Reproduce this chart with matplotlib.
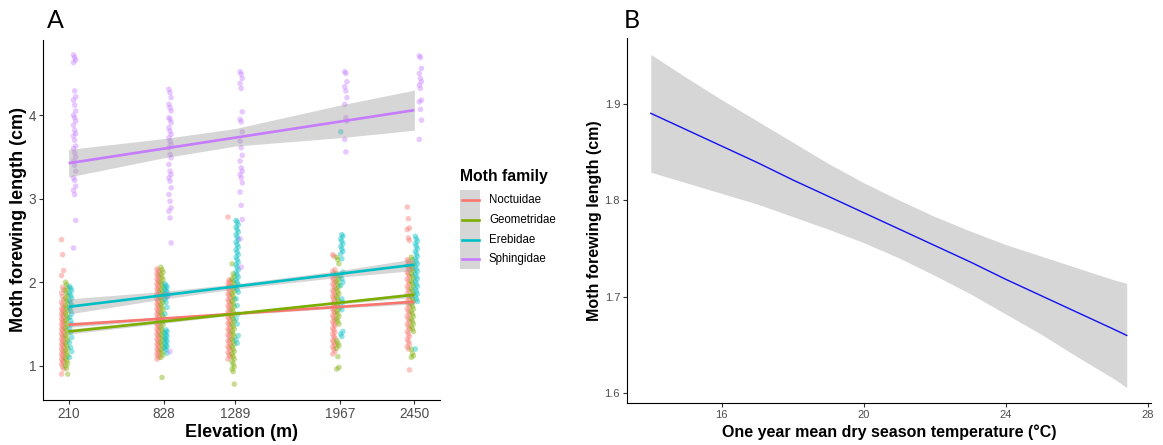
import numpy as np
import matplotlib.pyplot as plt
from matplotlib.patches import Rectangle
from matplotlib.lines import Line2D

plt.rcParams['font.family'] = ['Liberation Sans', 'DejaVu Sans']

# ---------------- panel A data ----------------
elevations = [210, 828, 1289, 1967, 2450]
families = ["Noctuidae", "Geometridae", "Erebidae", "Sphingidae"]
family_colors = ["#F8766D", "#7CAE00", "#00BFC4", "#C77CFF"]

# forewing length (cm) per elevation
noctuidae_pts = [
    [2.51, 2.33, 2.14, 2.08, 1.94, 1.91, 1.87, 1.83, 1.79, 1.76, 1.73, 1.70, 1.68, 1.66, 1.64, 1.62, 1.60,
     1.58, 1.56, 1.54, 1.52, 1.50, 1.48, 1.46, 1.44, 1.42, 1.40, 1.38, 1.36, 1.34, 1.32, 1.30, 1.28, 1.26,
     1.24, 1.22, 1.20, 1.18, 1.16, 1.14, 1.12, 1.10, 1.08, 1.06, 1.04, 1.02, 0.99, 0.96, 0.90],
    [2.16, 2.14, 2.12, 2.10, 2.08, 2.06, 2.04, 2.02, 2.00, 1.98, 1.96, 1.94, 1.92, 1.90, 1.88, 1.86, 1.84,
     1.82, 1.80, 1.78, 1.76, 1.74, 1.72, 1.70, 1.68, 1.66, 1.64, 1.62, 1.60, 1.58, 1.56, 1.54, 1.52, 1.50,
     1.48, 1.46, 1.44, 1.42, 1.40, 1.38, 1.36, 1.34, 1.32, 1.30, 1.28, 1.26, 1.24, 1.22, 1.20, 1.18, 1.16,
     1.14, 1.12, 1.10, 1.08],
    [2.78, 2.03, 2.01, 1.99, 1.97, 1.95, 1.93, 1.91, 1.88, 1.86, 1.84, 1.81, 1.79, 1.77, 1.74, 1.72, 1.70,
     1.67, 1.65, 1.63, 1.60, 1.58, 1.56, 1.53, 1.51, 1.49, 1.46, 1.44, 1.42, 1.39, 1.37, 1.35, 1.32, 1.30,
     1.28, 1.25, 1.23, 1.21, 1.18, 1.16, 1.13, 1.11, 1.08],
    [2.33, 2.31, 2.15, 2.13, 2.10, 2.08, 2.05, 2.03, 2.00, 1.98, 1.95, 1.93, 1.90, 1.88, 1.85, 1.83, 1.80,
     1.78, 1.75, 1.73, 1.70, 1.68, 1.65, 1.63, 1.60, 1.58, 1.55, 1.53, 1.50, 1.48, 1.45, 1.43, 1.40, 1.38,
     1.35, 1.33, 1.30, 1.28, 1.25, 1.23, 1.20, 1.17, 1.14],
    [2.90, 2.76, 2.65, 2.63, 2.53, 2.50, 2.27, 2.25, 2.22, 2.20, 2.17, 2.15, 2.12, 2.10, 2.07, 2.04, 2.01,
     1.98, 1.95, 1.92, 1.89, 1.86, 1.83, 1.80, 1.77, 1.74, 1.71, 1.68, 1.65, 1.62, 1.59, 1.56, 1.53, 1.50,
     1.47, 1.44, 1.41, 1.38, 1.35, 1.32, 1.29, 1.26, 1.23, 1.20, 0.95],
]
geometridae_pts = [
    [2.00, 1.97, 1.93, 1.90, 1.87, 1.84, 1.81, 1.78, 1.75, 1.72, 1.69, 1.66, 1.63, 1.60, 1.57, 1.54, 1.51,
     1.48, 1.45, 1.42, 1.39, 1.36, 1.33, 1.30, 1.27, 1.24, 1.21, 1.18, 1.15, 1.12, 1.09, 1.06, 1.03, 1.00,
     0.97, 0.90],
    [2.18, 2.15, 2.12, 2.09, 2.06, 2.03, 2.00, 1.97, 1.94, 1.91, 1.88, 1.85, 1.82, 1.79, 1.76, 1.73, 1.70,
     1.67, 1.64, 1.61, 1.58, 1.55, 1.52, 1.49, 1.46, 1.43, 1.40, 1.37, 1.34, 1.31, 1.28, 1.25, 1.22, 1.19,
     1.16, 1.13, 1.10, 0.86],
    [2.22, 2.10, 2.07, 2.04, 2.01, 1.98, 1.95, 1.92, 1.89, 1.86, 1.83, 1.80, 1.77, 1.74, 1.71, 1.68, 1.65,
     1.62, 1.59, 1.56, 1.53, 1.50, 1.47, 1.44, 1.41, 1.38, 1.35, 1.32, 1.29, 1.26, 1.23, 1.20, 1.17, 1.14,
     1.11, 1.08, 1.05, 1.02, 0.99, 0.96, 0.93, 0.78],
    [2.30, 2.27, 2.22, 2.10, 2.07, 2.04, 2.01, 1.98, 1.95, 1.92, 1.89, 1.86, 1.83, 1.80, 1.77, 1.74, 1.71,
     1.68, 1.65, 1.62, 1.59, 1.56, 1.53, 1.50, 1.30, 1.27, 1.24, 1.21, 1.11, 0.98, 0.96],
    [2.30, 2.27, 2.22, 2.19, 2.16, 2.13, 2.10, 2.07, 2.04, 2.01, 1.98, 1.95, 1.92, 1.89, 1.86, 1.83, 1.80,
     1.77, 1.74, 1.71, 1.68, 1.65, 1.62, 1.59, 1.56, 1.53, 1.50, 1.47, 1.44, 1.41, 1.20, 1.15, 1.12, 1.10],
]
erebidae_pts = [
    [1.95, 1.93, 1.90, 1.87, 1.84, 1.81, 1.78, 1.75, 1.72, 1.69, 1.66, 1.62, 1.58, 1.54, 1.50, 1.45, 1.40,
     1.34, 1.28, 1.22, 1.17, 1.10],
    [1.98, 1.96, 1.94, 1.92, 1.90, 1.88, 1.86, 1.84, 1.82, 1.80, 1.76, 1.70, 1.62, 1.43, 1.41, 1.39, 1.37,
     1.35, 1.33, 1.31, 1.29, 1.27, 1.25, 1.23, 1.21, 1.19, 1.15],
    [2.74, 2.72, 2.69, 2.66, 2.63, 2.60, 2.57, 2.54, 2.51, 2.48, 2.45, 2.42, 2.39, 2.36, 2.33, 2.30, 2.27,
     2.24, 2.21, 2.18, 2.15, 2.12, 2.09, 2.06, 2.03, 2.00, 1.97, 1.94, 1.91, 1.88, 1.80, 1.72, 1.62, 1.56,
     1.50, 1.36, 1.31, 1.27],
    [3.80, 2.57, 2.55, 2.52, 2.49, 2.46, 2.43, 2.40, 2.37, 2.34, 2.28, 2.12, 2.08, 2.04, 2.00, 1.96, 1.80,
     1.76, 1.71, 1.67, 1.41, 1.38, 1.35],
    [2.55, 2.52, 2.49, 2.46, 2.43, 2.40, 2.37, 2.34, 2.31, 2.28, 2.25, 2.22, 2.19, 2.16, 2.13, 2.10, 2.07,
     2.04, 2.01, 1.98, 1.95, 1.92, 1.89, 1.86, 1.83, 1.80, 1.77, 1.20],
]
sphingidae_pts = [
    [4.72, 4.69, 4.66, 4.63, 4.29, 4.22, 4.18, 4.12, 4.05, 4.00, 3.97, 3.93, 3.88, 3.82, 3.78, 3.75, 3.70,
     3.63, 3.60, 3.55, 3.50, 3.45, 3.40, 3.33, 3.25, 3.22, 3.15, 3.10, 3.05, 2.74, 2.41],
    [4.31, 4.27, 4.21, 4.13, 4.09, 4.05, 3.97, 3.95, 3.91, 3.85, 3.81, 3.77, 3.73, 3.69, 3.65, 3.61, 3.53,
     3.49, 3.41, 3.33, 3.29, 3.25, 3.21, 3.13, 3.05, 2.97, 2.89, 2.85, 2.77, 2.47, 1.85, 1.17],
    [4.52, 4.49, 4.44, 4.38, 4.32, 4.04, 3.95, 3.92, 3.80, 3.69, 3.61, 3.52, 3.45, 3.37, 3.33, 3.29, 3.25,
     3.19, 3.08, 2.92, 2.75, 2.52, 2.18],
    [4.52, 4.50, 4.40, 4.34, 4.29, 4.21, 4.13, 3.97, 3.93, 3.71, 3.56],
    [4.71, 4.69, 4.56, 4.50, 4.44, 4.40, 4.36, 4.32, 4.18, 4.16, 4.07, 3.94, 3.71],
]

# linear fits and 95% bands at each elevation
fit_noctuidae = [1.49, 1.566, 1.623, 1.706, 1.766]
lo_noctuidae = [1.46, 1.55, 1.61, 1.69, 1.74]
hi_noctuidae = [1.52, 1.58, 1.64, 1.72, 1.79]
fit_geometridae = [1.41, 1.531, 1.622, 1.755, 1.85]
lo_geometridae = [1.38, 1.51, 1.61, 1.74, 1.82]
hi_geometridae = [1.44, 1.55, 1.64, 1.77, 1.88]
fit_erebidae = [1.706, 1.845, 1.949, 2.101, 2.21]
lo_erebidae = [1.62, 1.80, 1.92, 2.06, 2.14]
hi_erebidae = [1.80, 1.89, 1.98, 2.14, 2.28]
fit_sphingidae = [3.425, 3.60, 3.731, 3.923, 4.06]
lo_sphingidae = [3.26, 3.49, 3.63, 3.73, 3.82]
hi_sphingidae = [3.59, 3.72, 3.84, 4.12, 4.30]

# ---------------- panel B data ----------------
temp_x = [14, 15, 16, 17, 18, 19, 20, 21, 22, 23, 24, 25, 26, 27, 27.4]
temp_fit = [1.890, 1.873, 1.856, 1.839, 1.821, 1.804, 1.787, 1.770, 1.753, 1.736, 1.718, 1.701,
            1.684, 1.667, 1.660]
temp_lo = [1.829, 1.818, 1.807, 1.796, 1.783, 1.770, 1.756, 1.740, 1.722, 1.703, 1.682, 1.661,
           1.638, 1.616, 1.606]
temp_hi = [1.951, 1.927, 1.904, 1.882, 1.860, 1.838, 1.818, 1.800, 1.783, 1.768, 1.754, 1.742,
           1.730, 1.718, 1.714]

points = [noctuidae_pts, geometridae_pts, erebidae_pts, sphingidae_pts]
fits = [fit_noctuidae, fit_geometridae, fit_erebidae, fit_sphingidae]
los = [lo_noctuidae, lo_geometridae, lo_erebidae, lo_sphingidae]
his = [hi_noctuidae, hi_geometridae, hi_erebidae, hi_sphingidae]

W, H = 1163, 445
fig = plt.figure(figsize=(W / 100, H / 100), dpi=100)


def fx(x):
    return x / W


def fy(y):
    return 1 - y / H


def style_axes(ax, tick_size):
    for s in ['top', 'right']:
        ax.spines[s].set_visible(False)
    for s in ['left', 'bottom']:
        ax.spines[s].set_linewidth(0.8)
        ax.spines[s].set_color('black')
    ax.tick_params(length=3, width=0.8, color='#333333', labelcolor='#4D4D4D',
                   labelsize=tick_size, pad=2)


# ---------------- panel A ----------------
axA = fig.add_axes([fx(43), fy(400), fx(440 - 43), (400 - 40) / H])
dodge = [-39, -13, 13, 39]
spread = np.array([-7, 0, 7])   # slight side-by-side spread inside a column
for k in range(4):
    for i, elev in enumerate(elevations):
        ys = points[k][i]
        xs = elev + dodge[k] + spread[np.arange(len(ys)) % 3]
        axA.scatter(xs, ys, s=16, color=family_colors[k],
                    alpha=0.42, edgecolors='none', zorder=1)
for k in range(4):
    axA.fill_between(elevations, los[k], his[k], color='#999999', alpha=0.4,
                     linewidth=0, zorder=2)
    axA.plot(elevations, fits[k], color=family_colors[k], lw=1.9, zorder=3,
             solid_capstyle='butt')

axA.set_xlim(44, 2616)
axA.set_ylim(0.59, 4.9)
axA.set_xticks(elevations)
axA.set_xticklabels([str(e) for e in elevations])
axA.set_yticks([1, 2, 3, 4])
axA.set_yticklabels(['1', '2', '3', '4'])
style_axes(axA, 9.8)
axA.set_xlabel('Elevation (m)', fontsize=13, fontweight='bold', labelpad=2)
axA.set_ylabel('Moth forewing length (cm)', fontsize=13, fontweight='bold', labelpad=1)

# legend
fig.text(fx(460), fy(177), 'Moth family', fontsize=11.3, fontweight='bold',
         ha='left', va='center')
key_top = 190
key_h = 19.8
for k, name in enumerate(families):
    y0 = key_top + k * key_h
    fig.add_artist(Rectangle((fx(460), fy(y0 + key_h)), fx(20), key_h / H,
                             transform=fig.transFigure, facecolor='#D6D6D6',
                             edgecolor='none'))
    yc = y0 + key_h / 2
    fig.add_artist(Line2D([fx(461.5), fx(478.5)], [fy(yc), fy(yc)],
                          transform=fig.transFigure, color=family_colors[k], lw=1.9))
    fig.text(fx(489), fy(yc), name, fontsize=8.3, ha='left', va='center', color='black')

# ---------------- panel B ----------------
axB = fig.add_axes([fx(627), fy(403), fx(1150.5 - 627), (403 - 38) / H])
axB.fill_between(temp_x, temp_lo, temp_hi, color='#999999', alpha=0.4, linewidth=0)
axB.plot(temp_x, temp_fit, color='#1010F0', lw=1.0)
axB.set_xlim(13.33, 28.07)
axB.set_ylim(1.590, 1.968)
axB.set_xticks([16, 20, 24, 28])
axB.set_yticks([1.6, 1.7, 1.8, 1.9])
axB.set_yticklabels(['1.6', '1.7', '1.8', '1.9'])
style_axes(axB, 8)
axB.set_xlabel('One year mean dry season temperature (°C)', fontsize=11.5,
               fontweight='bold', labelpad=3)
axB.set_ylabel('Moth forewing length (cm)', fontsize=11.5, fontweight='bold', labelpad=2)

# panel letters
fig.text(fx(47), fy(28), 'A', fontsize=18, family=['Lato', 'DejaVu Sans'],
         ha='left', va='baseline')
fig.text(fx(624), fy(28), 'B', fontsize=18, family=['Lato', 'DejaVu Sans'],
         ha='left', va='baseline')

fig.savefig('out.png', dpi=100)
